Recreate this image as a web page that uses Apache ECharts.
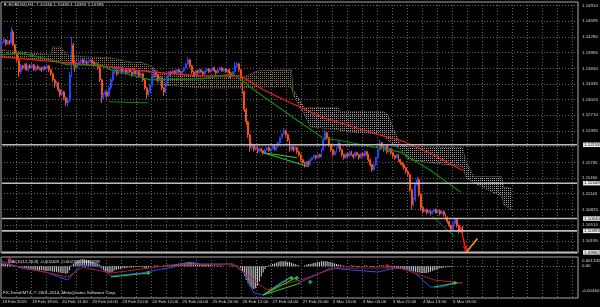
<!DOCTYPE html>
<html><head><meta charset="utf-8">
<script src="https://cdn.jsdelivr.net/npm/echarts@6/dist/echarts.min.js"></script>
<style>html,body{margin:0;padding:0;background:#000;}#c{width:600px;height:307px;}</style>
</head><body><div id="c"></div>
<script>
// ---------- time axis ----------
const timeLabels = ['19 Feb 2015','19 Feb 19:00','20 Feb 11:00','23 Feb 04:00','23 Feb 20:00','24 Feb 12:00','25 Feb 04:00','25 Feb 20:00','26 Feb 12:00','27 Feb 04:00','27 Feb 20:00','2 Mar 13:00','3 Mar 05:00','3 Mar 21:00','4 Mar 13:00','5 Mar 05:00'];
const slotCount = 307;

// ---------- price axis ----------
const priceGridValues = [1.14910,1.14595,1.14280,1.13965,1.13650,1.13335,1.13025,1.12710,1.12395,1.12080,1.11765,1.11450,1.11140,1.10825,1.10510,1.10195];
const priceLabelValues = [1.14910,1.14595,1.14280,1.13965,1.13650,1.13335,1.13025,1.12710,1.12395,1.11765,1.11450,1.11140,1.10825,1.10510,1.10195];
const levelLines = [1.12118,1.11349,1.10640,1.10393,1.09962];

// ---------- EURUSD H1 candles ----------
const opens = [
1.1414,1.1418,1.1422,1.1414,1.1420,1.1416,1.1438,1.1412,1.1396,1.1382,
1.1358,1.1370,1.1366,1.1374,1.1362,1.1370,1.1366,1.1372,1.1362,1.1368,
1.1364,1.1366,1.1362,1.1368,1.1364,1.1370,1.1362,1.1354,1.1342,1.1332,
1.1336,1.1322,1.1312,1.1318,1.1306,1.1296,1.1302,1.1352,1.1412,1.1378,
1.1366,1.1374,1.1378,1.1382,1.1376,1.1380,1.1374,1.1378,1.1382,1.1376,
1.1372,1.1374,1.1366,1.1342,1.1306,1.1312,1.1318,1.1310,1.1326,1.1342,
1.1358,1.1362,1.1354,1.1360,1.1366,1.1358,1.1362,1.1356,1.1364,1.1358,
1.1352,1.1360,1.1354,1.1358,1.1350,1.1354,1.1342,1.1326,1.1312,1.1318,
1.1332,1.1350,1.1358,1.1352,1.1342,1.1346,1.1326,1.1318,1.1334,1.1350,
1.1358,1.1354,1.1360,1.1356,1.1362,1.1358,1.1354,1.1360,1.1366,1.1374,
1.1382,1.1370,1.1358,1.1352,1.1360,1.1356,1.1362,1.1358,1.1354,1.1360,
1.1364,1.1358,1.1362,1.1366,1.1360,1.1356,1.1362,1.1366,1.1360,1.1364,
1.1358,1.1362,1.1356,1.1350,1.1358,1.1370,1.1374,1.1362,1.1346,1.1318,
1.1282,1.1258,1.1232,1.1206,1.1212,1.1202,1.1208,1.1198,1.1204,1.1200,
1.1196,1.1202,1.1206,1.1200,1.1204,1.1210,1.1202,1.1208,1.1216,1.1226,
1.1234,1.1240,1.1232,1.1222,1.1202,1.1208,1.1202,1.1206,1.1198,1.1192,
1.1182,1.1176,1.1170,1.1178,1.1172,1.1182,1.1186,1.1190,1.1186,1.1192,
1.1188,1.1202,1.1222,1.1236,1.1226,1.1212,1.1202,1.1192,1.1198,1.1206,
1.1214,1.1202,1.1192,1.1186,1.1194,1.1190,1.1198,1.1192,1.1188,1.1196,
1.1192,1.1186,1.1194,1.1190,1.1198,1.1192,1.1182,1.1172,1.1162,1.1172,
1.1186,1.1202,1.1216,1.1208,1.1202,1.1210,1.1198,1.1204,1.1196,1.1190,
1.1186,1.1192,1.1182,1.1176,1.1172,1.1166,1.1158,1.1152,1.1122,1.1092,
1.1102,1.1132,1.1142,1.1112,1.1086,1.1078,1.1082,1.1076,1.1080,1.1074,
1.1078,1.1082,1.1076,1.1080,1.1074,1.1078,1.1072,1.1066,1.1058,1.1050,
1.1042,1.1054,1.1062,1.1050,1.1038,1.10446];
const closes = [
1.1418,1.1422,1.1414,1.1420,1.1416,1.1438,1.1412,1.1396,1.1382,1.1358,
1.1370,1.1366,1.1374,1.1362,1.1370,1.1366,1.1372,1.1362,1.1368,1.1364,
1.1366,1.1362,1.1368,1.1364,1.1370,1.1362,1.1354,1.1342,1.1332,1.1336,
1.1322,1.1312,1.1318,1.1306,1.1296,1.1302,1.1352,1.1412,1.1378,1.1366,
1.1374,1.1378,1.1382,1.1376,1.1380,1.1374,1.1378,1.1382,1.1376,1.1372,
1.1374,1.1366,1.1342,1.1306,1.1312,1.1318,1.1310,1.1326,1.1342,1.1358,
1.1362,1.1354,1.1360,1.1366,1.1358,1.1362,1.1356,1.1364,1.1358,1.1352,
1.1360,1.1354,1.1358,1.1350,1.1354,1.1342,1.1326,1.1312,1.1318,1.1332,
1.1350,1.1358,1.1352,1.1342,1.1346,1.1326,1.1318,1.1334,1.1350,1.1358,
1.1354,1.1360,1.1356,1.1362,1.1358,1.1354,1.1360,1.1366,1.1374,1.1382,
1.1370,1.1358,1.1352,1.1360,1.1356,1.1362,1.1358,1.1354,1.1360,1.1364,
1.1358,1.1362,1.1366,1.1360,1.1356,1.1362,1.1366,1.1360,1.1364,1.1358,
1.1362,1.1356,1.1350,1.1358,1.1370,1.1374,1.1362,1.1346,1.1318,1.1282,
1.1258,1.1232,1.1206,1.1212,1.1202,1.1208,1.1198,1.1204,1.1200,1.1196,
1.1202,1.1206,1.1200,1.1204,1.1210,1.1202,1.1208,1.1216,1.1226,1.1234,
1.1240,1.1232,1.1222,1.1202,1.1208,1.1202,1.1206,1.1198,1.1192,1.1182,
1.1176,1.1170,1.1178,1.1172,1.1182,1.1186,1.1190,1.1186,1.1192,1.1188,
1.1202,1.1222,1.1236,1.1226,1.1212,1.1202,1.1192,1.1198,1.1206,1.1214,
1.1202,1.1192,1.1186,1.1194,1.1190,1.1198,1.1192,1.1188,1.1196,1.1192,
1.1186,1.1194,1.1190,1.1198,1.1192,1.1182,1.1172,1.1162,1.1172,1.1186,
1.1202,1.1216,1.1208,1.1202,1.1210,1.1198,1.1204,1.1196,1.1190,1.1186,
1.1192,1.1182,1.1176,1.1172,1.1166,1.1158,1.1152,1.1122,1.1092,1.1102,
1.1132,1.1142,1.1112,1.1086,1.1078,1.1082,1.1076,1.1080,1.1074,1.1078,
1.1082,1.1076,1.1080,1.1074,1.1078,1.1072,1.1066,1.1058,1.1050,1.1042,
1.1054,1.1062,1.1050,1.1038,1.1044,1.10393];
const highs = [
1.1422,1.1426,1.1424,1.1422,1.1422,1.1448,1.1442,1.1414,1.1398,1.1384,
1.1374,1.1372,1.1376,1.1376,1.1372,1.1374,1.1376,1.1374,1.1370,1.1372,
1.1370,1.1368,1.1370,1.1370,1.1374,1.1372,1.1364,1.1356,1.1344,1.1340,
1.1338,1.1324,1.1322,1.1320,1.1308,1.1306,1.1358,1.1428,1.1416,1.1382,
1.1378,1.1382,1.1386,1.1384,1.1384,1.1382,1.1382,1.1386,1.1384,1.1380,
1.1378,1.1376,1.1368,1.1344,1.1316,1.1322,1.1320,1.1330,1.1346,1.1362,
1.1366,1.1364,1.1362,1.1370,1.1368,1.1366,1.1364,1.1366,1.1366,1.1360,
1.1362,1.1362,1.1360,1.1360,1.1356,1.1356,1.1344,1.1328,1.1322,1.1334,
1.1352,1.1366,1.1360,1.1354,1.1350,1.1348,1.1328,1.1336,1.1352,1.1360,
1.1360,1.1362,1.1362,1.1364,1.1364,1.1360,1.1362,1.1368,1.1376,1.1388,
1.1384,1.1372,1.1360,1.1362,1.1362,1.1364,1.1364,1.1360,1.1362,1.1366,
1.1366,1.1364,1.1368,1.1368,1.1362,1.1364,1.1368,1.1368,1.1366,1.1366,
1.1364,1.1364,1.1358,1.1360,1.1378,1.1378,1.1376,1.1364,1.1348,1.1320,
1.1286,1.1260,1.1234,1.1216,1.1214,1.1210,1.1210,1.1206,1.1206,1.1202,
1.1204,1.1208,1.1208,1.1206,1.1212,1.1212,1.1210,1.1218,1.1228,1.1236,
1.1246,1.1242,1.1234,1.1224,1.1210,1.1210,1.1208,1.1208,1.1200,1.1194,
1.1184,1.1178,1.1180,1.1180,1.1184,1.1188,1.1192,1.1192,1.1194,1.1194,
1.1204,1.1224,1.1242,1.1238,1.1228,1.1214,1.1204,1.1200,1.1208,1.1222,
1.1216,1.1204,1.1194,1.1196,1.1196,1.1200,1.1200,1.1194,1.1198,1.1198,
1.1194,1.1196,1.1196,1.1200,1.1200,1.1194,1.1184,1.1174,1.1174,1.1188,
1.1204,1.1222,1.1218,1.1210,1.1212,1.1212,1.1206,1.1206,1.1198,1.1192,
1.1194,1.1194,1.1184,1.1178,1.1174,1.1168,1.1160,1.1154,1.1124,1.1106,
1.1134,1.1148,1.1144,1.1114,1.1090,1.1084,1.1084,1.1082,1.1082,1.1080,
1.1084,1.1084,1.1082,1.1082,1.1080,1.1080,1.1074,1.1068,1.1060,1.1052,
1.1058,1.1066,1.1064,1.1052,1.1048,1.10490];
const lows = [
1.1410,1.1416,1.1410,1.1412,1.1412,1.1414,1.1410,1.1392,1.1378,1.1348,
1.1354,1.1362,1.1364,1.1360,1.1358,1.1364,1.1364,1.1360,1.1358,1.1362,
1.1360,1.1358,1.1360,1.1362,1.1362,1.1358,1.1350,1.1338,1.1326,1.1328,
1.1318,1.1308,1.1310,1.1302,1.1290,1.1288,1.1298,1.1348,1.1370,1.1358,
1.1362,1.1370,1.1376,1.1372,1.1374,1.1370,1.1372,1.1376,1.1372,1.1368,
1.1370,1.1362,1.1338,1.1296,1.1302,1.1308,1.1306,1.1308,1.1322,1.1338,
1.1354,1.1350,1.1352,1.1358,1.1354,1.1356,1.1352,1.1354,1.1356,1.1348,
1.1350,1.1352,1.1352,1.1346,1.1348,1.1338,1.1322,1.1304,1.1308,1.1314,
1.1328,1.1346,1.1348,1.1338,1.1340,1.1322,1.1310,1.1316,1.1330,1.1346,
1.1350,1.1352,1.1352,1.1354,1.1356,1.1350,1.1352,1.1358,1.1364,1.1372,
1.1366,1.1354,1.1348,1.1350,1.1352,1.1354,1.1356,1.1350,1.1352,1.1358,
1.1356,1.1356,1.1360,1.1358,1.1352,1.1354,1.1360,1.1358,1.1358,1.1356,
1.1356,1.1346,1.1344,1.1348,1.1356,1.1366,1.1358,1.1342,1.1314,1.1278,
1.1252,1.1226,1.1198,1.1202,1.1198,1.1200,1.1194,1.1196,1.1196,1.1192,
1.1194,1.1200,1.1198,1.1198,1.1202,1.1200,1.1200,1.1206,1.1214,1.1224,
1.1232,1.1228,1.1218,1.1198,1.1200,1.1198,1.1200,1.1194,1.1188,1.1178,
1.1172,1.1166,1.1168,1.1168,1.1170,1.1180,1.1184,1.1182,1.1184,1.1186,
1.1186,1.1200,1.1220,1.1222,1.1208,1.1198,1.1188,1.1190,1.1196,1.1204,
1.1198,1.1188,1.1182,1.1184,1.1186,1.1188,1.1190,1.1184,1.1186,1.1190,
1.1182,1.1184,1.1188,1.1188,1.1190,1.1178,1.1168,1.1158,1.1160,1.1170,
1.1184,1.1200,1.1204,1.1198,1.1200,1.1194,1.1196,1.1192,1.1186,1.1182,
1.1184,1.1178,1.1172,1.1168,1.1162,1.1154,1.1148,1.1118,1.1082,1.1088,
1.1098,1.1128,1.1108,1.1080,1.1074,1.1076,1.1072,1.1074,1.1070,1.1072,
1.1076,1.1074,1.1074,1.1070,1.1072,1.1068,1.1062,1.1054,1.1046,1.1036,
1.1040,1.1052,1.1046,1.1034,1.1036,1.10355];

// ---------- moving averages (bar index, price) ----------
const redMA = [[0,1.1388],[35,1.1376],[58,1.1368],[79,1.1358],[106,1.1350],[127,1.1350],[139,1.1322],[150,1.1302],[171,1.1266],[205,1.1227],[212,1.1221],[228,1.1195],[245,1.1161]];
const greenMA = [[0,1.1392],[10,1.1396],[26,1.1382],[35,1.1372],[52,1.1372],[58,1.1362],[79,1.1342],[106,1.1344],[123,1.1354],[134,1.1322],[159,1.1256],[171,1.1225],[179,1.1221],[212,1.1197],[228,1.1161],[244,1.1117]];

// ---------- Ichimoku cloud keypoints ----------
const cloudIdx = [0,10,26,27,31,35,45,58,70,74,79,84,106,129,136,154,155,161,164,179,180,203,205,212,216,245,247,251,266,267,271];
const cloudTop = [1.1402,1.1398,1.1392,1.1408,1.1408,1.1392,1.1388,1.1386,1.1376,1.1378,1.1370,1.1356,1.1348,1.1348,1.1360,1.1362,1.1322,1.1286,1.1286,1.1286,1.1278,1.1278,1.1274,1.1212,1.1208,1.1206,1.1178,1.1148,1.1148,1.1126,1.1126];
const cloudBot = [1.1388,1.1386,1.1382,1.1382,1.1376,1.1376,1.1372,1.1366,1.1362,1.1358,1.1358,1.1332,1.1326,1.1326,1.1328,1.1328,1.1312,1.1272,1.1248,1.1242,1.1238,1.1232,1.1222,1.1202,1.1182,1.1168,1.1146,1.1136,1.1108,1.1092,1.1082];
const cloudTurn = 155;

// ---------- drawn objects on price chart ----------
const darkGreenLines = [[[57,1.1298],[78,1.1296]],[[229,1.1068],[241,1.1028]]];
const limeLines = [[[139,1.1196],[157,1.1186]],[[139,1.1196],[163,1.1168]]];
const redArrow = [[244,1.1048],[247,1.0998]];
const orangeLine = [[247,1.0996],[253,1.1024]];

// ---------- MACD ----------
const macdAxisMax = 0.001332, macdAxisMin = -0.004607;
const macdHist = [
0.0004,0.0004,0.0003,0.0003,0.0002,
0.0001,0,-0.0001,-0.0001,-0.0002,-0.0002,
-0.0003,-0.0003,-0.0004,-0.0004,-0.0004,-0.0005,-0.0005,-0.0005,-0.0006,-0.0006,
-0.0006,-0.0006,-0.0007,-0.0007,-0.0007,-0.0007,-0.0008,-0.0008,-0.0008,-0.0009,
-0.0009,-0.0010,-0.0010,-0.0011,-0.0010,-0.0006,
0.0001,0.0004,0.0006,0.0008,0.0009,0.0010,0.0010,0.0010,0.0009,0.0009,0.0008,0.0007,0.0006,0.0005,0.0004,0.0002,
-0.0002,-0.0005,-0.0007,-0.0008,-0.0009,-0.0009,-0.0008,-0.0006,
-0.0005,-0.0004,-0.0004,-0.0003,-0.0003,-0.0003,-0.0002,-0.0002,-0.0002,-0.0002,-0.0001,-0.0001,-0.0001,-0.0001,-0.0002,
-0.0003,-0.0003,-0.0002,-0.0001,0,0.0001,0.0001,0.0001,0,0,0.0001,0.0001,0.0002,0.0002,0.0002,
0.0002,0.0003,0.0003,0.0004,0.0004,0.0004,0.0005,0.0005,0.0006,0.0006,
0.0005,0.0005,0.0004,0.0004,0.0003,0.0003,0.0003,0.0002,0.0002,0.0002,
0.0002,0.0001,0.0001,0.0001,0.0001,0.0001,0.0001,0,0,0,
0,0.0001,0.0001,0.0001,0.0001,
0,-0.0003,-0.0008,-0.0014,-0.0020,-0.0025,-0.0029,-0.0032,-0.0033,-0.0032,-0.0028,-0.0022,-0.0015,-0.0009,
-0.0004,-0.0001,0.0001,
0.0002,0.0003,0.0004,0.0005,0.0006,0.0007,0.0007,0.0007,0.0007,0.0006,0.0006,0.0005,0.0004,0.0003,
0.0002,0.0001,0,0,0.0001,0.0002,0.0003,0.0003,0.0004,0.0005,0.0005,0.0006,
0.0006,0.0007,0.0007,0.0007,0.0007,0.0006,0.0006,0.0005,0.0004,0.0003,0.0002,0.0002,
0.0001,0.0001,0,0,0,0.0001,0.0001,0,-0.0001,-0.0001,
0,0,0.0001,0.0001,0,-0.0001,-0.0001,-0.0001,0,0,
0.0001,0.0001,0.0001,0,0,
-0.0001,-0.0001,-0.0002,-0.0002,-0.0003,-0.0003,-0.0004,-0.0004,-0.0005,-0.0005,
-0.0006,-0.0007,-0.0007,-0.0008,-0.0008,-0.0009,-0.0009,-0.0010,-0.0010,-0.0010,
-0.0010,-0.0009,-0.0008,-0.0007,-0.0006,-0.0005,-0.0004,
-0.0003,-0.0003,-0.0002,-0.0002,-0.0001,-0.0001,-0.0001,0,0,0,0,0,0];
const macdMain = [[0,0.00075],[10,-0.00026],[23,-0.00084],[35,-0.0020],[42,0.00017],[52,-0.00012],[58,-0.00142],[74,-0.00099],[91,-0.00012],[100,0.00061],[106,0.00032],[123,0.00032],[129,-0.00099],[134,-0.00388],[139,-0.00417],[148,-0.00243],[154,-0.00157],[159,-0.00229],[175,-0.00026],[186,-0.00055],[200,-0.00084],[209,-0.00026],[218,-0.00055],[228,-0.00301],[234,-0.00301],[241,-0.00243],[245,-0.00243]];
const macdSignal = [[0,0.00046],[35,-0.00157],[43,-0.00012],[58,-0.00099],[91,0.00017],[123,0.00032],[134,-0.0020],[141,-0.00345],[154,-0.00229],[159,-0.0020],[177,-0.00026],[212,-0.00026],[230,-0.0020],[245,-0.00243]];
const macdLimeLines = [[[58,-0.00157],[78,-0.00099]],[[139,-0.00417],[154,-0.00157]],[[139,-0.00417],[157,-0.00157]],[[139,-0.00417],[159,-0.00243]],[[230,-0.00301],[241,-0.00243]]];
const macdGreenMarks = [[78,-0.00099],[154,-0.00171],[157,-0.00171],[164,-0.00229],[241,-0.00243]];
const macdRedMarks = [[4,0.00104],[205,0.00003]];

// ---------- texts ----------
const titleText = '▼ EURUSD,H1  1.10446 1.10490 1.10355 1.10393';
const macdText = 'MACD(12,26,9) -0.002405 -0.002700 0.000295';
const copyText = 'FX-Trend MT4, © 2001-2014, MetaQuotes Software Corp.';

// ---------- build ----------
const FONT = 'Liberation Sans';
const FS = 4.4;
const cats = Array.from({length: slotCount}, (_, i) => String(i));
const candleData = opens.map((o, i) => [o, closes[i], lows[i], highs[i]]);
const cloudSegs = [];
for (let k = 0; k < cloudIdx.length - 1; k++) {
  cloudSegs.push([cloudIdx[k], cloudTop[k], cloudBot[k], cloudIdx[k+1], cloudTop[k+1], cloudBot[k+1], cloudIdx[k] >= cloudTurn ? 1 : 0]);
}
function dotPattern(color) {
  const c = document.createElement('canvas'); c.width = 2; c.height = 2;
  const g = c.getContext('2d'); g.fillStyle = color; g.fillRect(0, 0, 1, 1);
  return {image: c, repeat: 'repeat'};
}
const tanPat = dotPattern('#8c7660');
const greyPat = dotPattern('#9c9c9c');
const gridLine = {color: '#5e6672', width: 1, type: [1, 2]};

function seg(data, color, w, xi, yi) {
  return {type: 'line', data: data, xAxisIndex: xi, yAxisIndex: yi, symbol: 'none', silent: true,
    lineStyle: {color: color, width: w}, z: 6, animation: false};
}
function levelSeries(v) {
  return {type: 'line', xAxisIndex: 0, yAxisIndex: 0, data: [[0, v], [slotCount - 1, v]], symbol: 'none', silent: true, z: 9,
    lineStyle: {color: '#bcbcbc', width: 1.6},
    endLabel: {show: true, distance: 6, formatter: () => v.toFixed(5), color: '#000', backgroundColor: '#eeeeee',
      fontSize: FS, fontFamily: FONT, padding: [0.5, 1, 0, 1]}};
}
const plusSymbol = 'path://M2,0H4V2H6V4H4V6H2V4H0V2H2Z';

const series = [
  {type: 'custom', xAxisIndex: 0, yAxisIndex: 0, silent: true, z: 1,
   encode: {x: [0, 3], y: [1, 2, 4, 5]}, data: cloudSegs,
   renderItem: function (params, api) {
     const a = api.coord([api.value(0), api.value(1)]);
     const b = api.coord([api.value(3), api.value(4)]);
     const c = api.coord([api.value(3), api.value(5)]);
     const d = api.coord([api.value(0), api.value(2)]);
     return {type: 'polygon', shape: {points: [a, b, c, d]}, style: {fill: api.value(6) ? greyPat : tanPat}};
   }},
  {type: 'line', xAxisIndex: 0, yAxisIndex: 0, symbol: 'none', silent: true, z: 2,
   data: cloudIdx.map((x, k) => [x, cloudTop[k]]), lineStyle: {color: '#a8845e', width: 0.8, type: [1, 1]}},
  {type: 'line', xAxisIndex: 0, yAxisIndex: 0, symbol: 'none', silent: true, z: 2,
   data: cloudIdx.map((x, k) => [x, cloudBot[k]]), lineStyle: {color: '#a8845e', width: 0.8, type: [1, 1]}},
  {type: 'candlestick', xAxisIndex: 0, yAxisIndex: 0, data: candleData, barWidth: 1.4, z: 3,
   itemStyle: {color: '#2444ff', color0: '#ff4d0d', borderColor: '#2444ff', borderColor0: '#ff4d0d', borderWidth: 1}},
  seg(redMA, '#ff1a1a', 1.2, 0, 0),
  seg(greenMA, '#0a8a0a', 1.2, 0, 0),
  ...darkGreenLines.map(l => seg(l, '#0a8a0a', 1, 0, 0)),
  ...limeLines.map(l => seg(l, '#30d030', 1, 0, 0)),
  ...levelLines.map(levelSeries),
  {type: 'line', xAxisIndex: 0, yAxisIndex: 0, data: [], z: 10,
   markLine: {silent: true, animation: false, symbol: ['none', 'arrow'], symbolSize: [4, 6], label: {show: false},
     lineStyle: {color: '#ff1010', width: 1.5, type: 'solid'},
     data: [[{coord: redArrow[0]}, {coord: redArrow[1]}]]}},
  Object.assign(seg(orangeLine, '#ff9a1a', 1.5, 0, 0), {z: 10}),
  // MACD
  {type: 'bar', xAxisIndex: 1, yAxisIndex: 1, data: macdHist, barWidth: 1, silent: true,
   itemStyle: {color: '#cfcfcf'}, z: 2},
  seg(macdMain, '#2050ff', 1, 1, 1),
  seg(macdSignal, '#c01818', 1, 1, 1),
  ...macdLimeLines.map(l => seg(l, '#30d030', 1, 1, 1)),
  {type: 'scatter', xAxisIndex: 1, yAxisIndex: 1, data: macdGreenMarks, symbol: plusSymbol, symbolSize: 4,
   itemStyle: {color: '#30e030'}, silent: true, z: 8},
  {type: 'scatter', xAxisIndex: 1, yAxisIndex: 1, data: macdRedMarks, symbol: plusSymbol, symbolSize: 4,
   itemStyle: {color: '#ff2020'}, silent: true, z: 8}
];

const option = {
  backgroundColor: '#000000',
  animation: false,
  textStyle: {fontFamily: FONT},
  grid: [
    {left: 1, right: 22, top: 2, height: 251, show: true, borderColor: '#a6a6a6', borderWidth: 1, backgroundColor: 'transparent', containLabel: false, outerBoundsMode: 'none'},
    {left: 1, right: 22, top: 257, height: 41, show: true, borderColor: '#a6a6a6', borderWidth: 1, backgroundColor: 'transparent', containLabel: false, outerBoundsMode: 'none'}
  ],
  xAxis: [
    {type: 'category', gridIndex: 0, data: cats, boundaryGap: true,
     axisLine: {show: false}, axisTick: {show: false}, axisLabel: {show: false},
     splitLine: {show: true, interval: 7, lineStyle: gridLine}},
    {type: 'category', gridIndex: 1, data: cats, boundaryGap: true,
     axisLine: {show: false}, axisTick: {show: false},
     axisLabel: {show: true, interval: 15, align: 'left', margin: 2, color: '#d8d8d8', fontSize: FS, fontFamily: FONT,
       formatter: (v, idx) => timeLabels[idx / 16] || ''},
     splitLine: {show: true, interval: 7, lineStyle: gridLine}}
  ],
  yAxis: [
    {type: 'value', gridIndex: 0, position: 'right', min: 1.0995, max: 1.1498,
     axisLine: {show: false}, axisTick: {show: false, customValues: priceGridValues},
     axisLabel: {show: true, customValues: priceLabelValues, margin: 4, color: '#d8d8d8', fontSize: FS, fontFamily: FONT,
       formatter: v => v.toFixed(5)},
     splitLine: {show: true, lineStyle: gridLine}},
    {type: 'value', gridIndex: 1, position: 'right', min: macdAxisMin, max: macdAxisMax,
     axisLine: {show: false}, axisTick: {show: false, customValues: [0]},
     axisLabel: {show: true, customValues: [macdAxisMax, 0, macdAxisMin], margin: 4, color: '#d8d8d8', fontSize: FS, fontFamily: FONT,
       formatter: v => v === 0 ? '{m|0.00}' : (v > 0 ? '{t|' + v.toFixed(6) + '}' : '{b|' + v.toFixed(6) + '}'),
       rich: {
         t: {padding: [8, 0, 0, 0], color: '#d8d8d8', fontSize: FS, fontFamily: FONT},
         m: {color: '#d8d8d8', fontSize: FS, fontFamily: FONT},
         b: {padding: [0, 0, 14, 0], color: '#d8d8d8', fontSize: FS, fontFamily: FONT}
       }},
     splitLine: {show: true, lineStyle: gridLine}}
  ],
  graphic: [
    {type: 'text', left: 3, top: 3, silent: true, style: {text: titleText, fill: '#e0e0e0', font: FS + 'px ' + FONT}},
    {type: 'text', left: 8, top: 260, silent: true, style: {text: macdText, fill: '#e0e0e0', font: FS + 'px ' + FONT}},
    {type: 'text', left: 3, top: 290.5, silent: true, style: {text: copyText, fill: '#e0e0e0', font: FS + 'px ' + FONT}}
  ],
  series: series
};
const chart = echarts.init(document.getElementById('c'), null, {renderer: 'canvas'});
chart.setOption(option);
</script></body></html>
